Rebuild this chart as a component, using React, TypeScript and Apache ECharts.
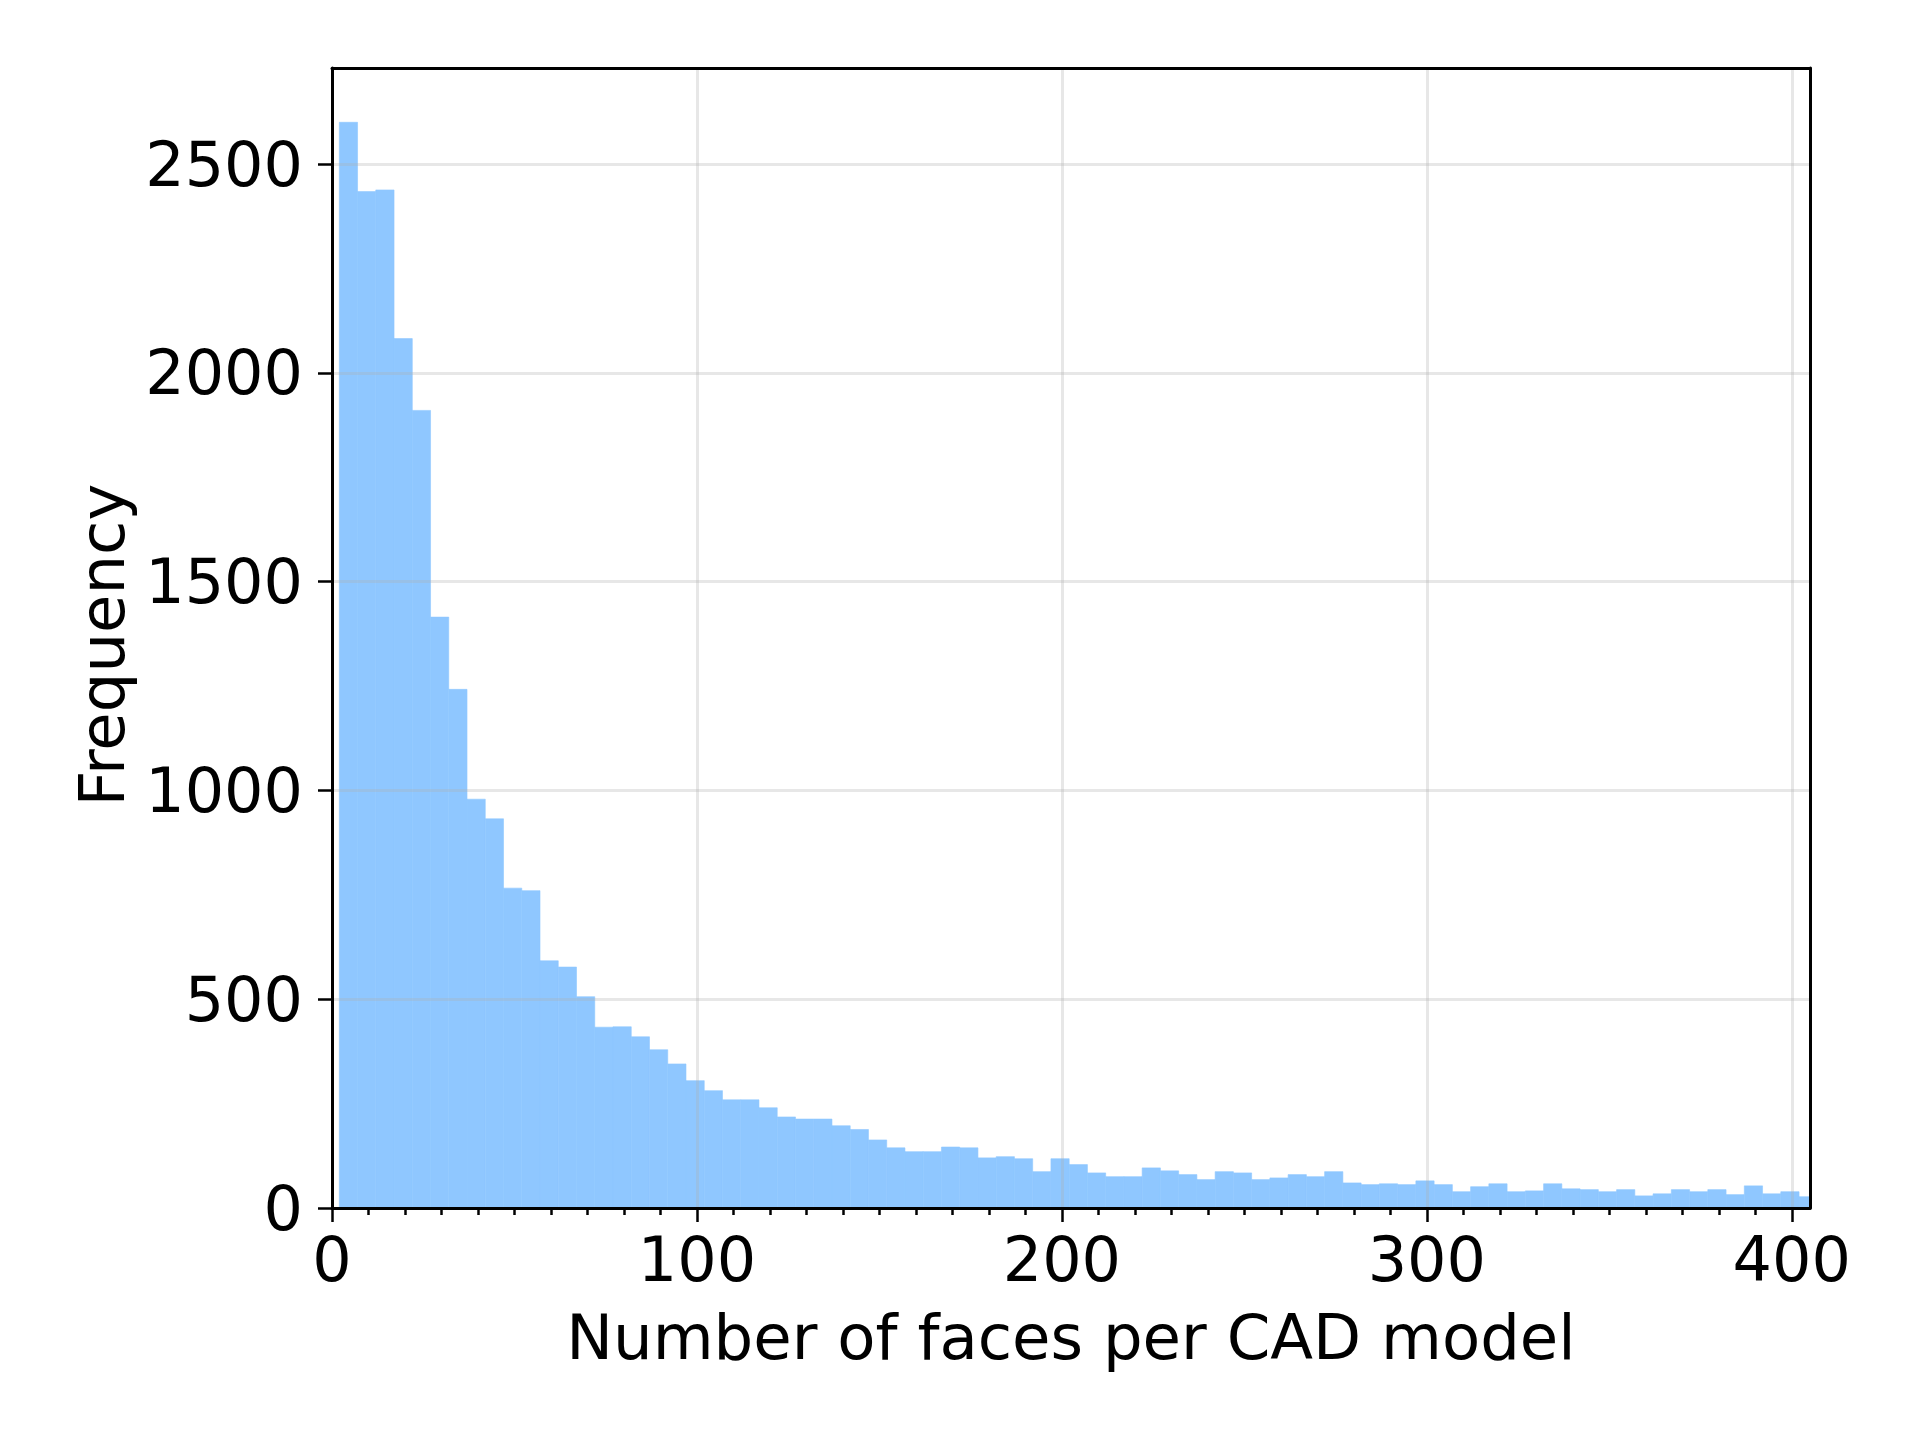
import React, { useEffect, useRef } from "react";
import * as echarts from "echarts";

// Histogram: bins of width 5 starting at 2
const BIN_START = 2;
const BIN_WIDTH = 5;
const counts = [
  2600, 2434, 2438, 2082, 1910, 1415, 1242, 979, 932, 766,
  760, 592, 577, 506, 433, 434, 410, 379, 345, 305,
  281, 259, 259, 240, 218, 213, 213, 197, 188, 163,
  144, 135, 135, 146, 144, 120, 123, 118, 87, 118,
  104, 84, 75, 75, 96, 89, 80, 68, 87, 84,
  68, 72, 80, 75, 87, 60, 56, 58, 56, 65,
  56, 39, 51, 58, 39, 41, 58, 46, 44, 39,
  44, 29, 34, 44, 39, 44, 32, 53, 34, 39,
  27,
];
const xMajorTicks = [0, 100, 200, 300, 400];
const xMinorTicks = [
  10, 20, 30, 40, 50, 60, 70, 80, 90,
  110, 120, 130, 140, 150, 160, 170, 180, 190,
  210, 220, 230, 240, 250, 260, 270, 280, 290,
  310, 320, 330, 340, 350, 360, 370, 380, 390,
];
const yMajorTicks = [0, 500, 1000, 1500, 2000, 2500];
const X_MAX = 405;
const Y_MAX = 2730;
const X_TITLE = "Number of faces per CAD model";
const Y_TITLE = "Frequency";

const FONT = "DejaVu Sans";
const BAR_COLOR = "#8FC7FF";
const GRID_COLOR = "rgba(176,176,176,0.3)";

export default function App() {
  const ref = useRef<HTMLDivElement>(null);

  useEffect(() => {
    if (!ref.current) return;
    const chart = echarts.init(ref.current, null, { renderer: "svg" });
    const binData = counts.map((c, i) => [
      BIN_START + i * BIN_WIDTH,
      BIN_START + (i + 1) * BIN_WIDTH,
      c,
    ]);
    const tickLine = { color: "#000", width: 2.5 };
    const labelStyle = { fontFamily: FONT, fontSize: 62, color: "#000" };
    const plain = (v: number) => String(v);

    chart.setOption({
      animation: false,
      backgroundColor: "#fff",
      grid: { left: 332, right: 110, top: 68, bottom: 232 },
      xAxis: [
        {
          type: "value",
          min: 0,
          max: X_MAX,
          position: "bottom",
          z: 5,
          name: X_TITLE,
          nameLocation: "middle",
          nameGap: 98,
          nameTextStyle: { fontFamily: FONT, fontSize: 62.5, color: "#000" },
          axisLine: { show: true, onZero: false, lineStyle: { color: "#000", width: 3 } },
          axisTick: { show: true, length: 14, customValues: xMajorTicks, lineStyle: tickLine },
          axisLabel: { show: true, customValues: xMajorTicks, margin: 20, formatter: plain, ...labelStyle },
          splitLine: { show: true, lineStyle: { color: GRID_COLOR, width: 3 } },
        },
        {
          type: "value",
          min: 0,
          max: X_MAX,
          position: "bottom",
          z: 4,
          axisLine: { show: false, onZero: false },
          axisTick: { show: true, length: 7, customValues: xMinorTicks, lineStyle: tickLine },
          axisLabel: { show: false },
          splitLine: { show: false },
        },
        {
          type: "value",
          min: 0,
          max: X_MAX,
          position: "top",
          z: 5,
          axisLine: { show: true, onZero: false, lineStyle: { color: "#000", width: 3 } },
          axisTick: { show: false },
          axisLabel: { show: false },
          splitLine: { show: false },
        },
      ],
      yAxis: [
        {
          type: "value",
          min: 0,
          max: Y_MAX,
          position: "left",
          z: 5,
          name: Y_TITLE,
          nameLocation: "middle",
          nameGap: 186,
          nameRotate: 90,
          nameTextStyle: { fontFamily: FONT, fontSize: 62.5, color: "#000", padding: [0, 14, 0, 0] },
          axisLine: { show: true, onZero: false, lineStyle: { color: "#000", width: 3 } },
          axisTick: { show: true, length: 14, customValues: yMajorTicks, lineStyle: tickLine },
          axisLabel: { show: true, customValues: yMajorTicks, margin: 29, formatter: plain, ...labelStyle },
          splitLine: { show: true, lineStyle: { color: GRID_COLOR, width: 3 } },
        },
        {
          type: "value",
          min: 0,
          max: Y_MAX,
          position: "right",
          z: 5,
          axisLine: { show: true, onZero: false, lineStyle: { color: "#000", width: 3 } },
          axisTick: { show: false },
          axisLabel: { show: false },
          splitLine: { show: false },
        },
      ],
      series: [
        {
          type: "custom",
          xAxisIndex: 0,
          yAxisIndex: 0,
          z: 2,
          data: binData,
          encode: { x: [0, 1], y: 2 },
          renderItem: (params: any, api: any) => {
            const p0 = api.coord([api.value(0), api.value(2)]);
            const p1 = api.coord([api.value(1), 0]);
            const cs = params.coordSys;
            const rect = echarts.graphic.clipRectByRect(
              { x: p0[0], y: p0[1], width: p1[0] - p0[0], height: p1[1] - p0[1] },
              { x: cs.x, y: cs.y, width: cs.width, height: cs.height }
            );
            if (!rect) return null;
            return {
              type: "rect",
              shape: rect,
              style: { fill: BAR_COLOR, stroke: BAR_COLOR, lineWidth: 0.6 },
            };
          },
        },
      ],
    });
    return () => chart.dispose();
  }, []);

  return (
    <div
      ref={ref}
      style={{ position: "absolute", left: 0, top: 0, width: 1920, height: 1440 }}
    />
  );
}
